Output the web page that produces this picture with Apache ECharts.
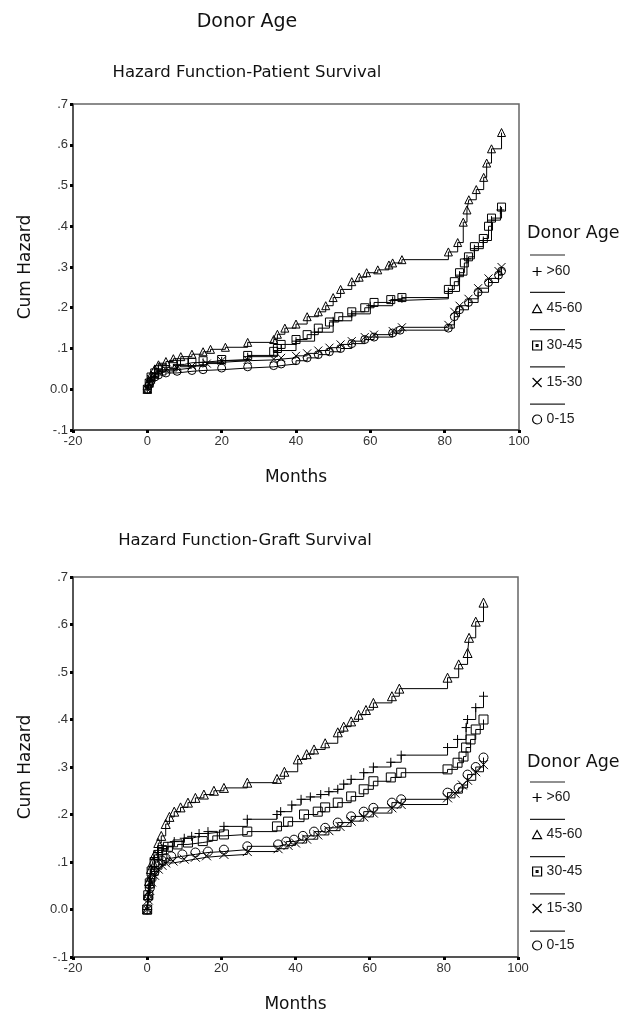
<!DOCTYPE html>
<html>
<head>
<meta charset="utf-8">
<script src="https://cdn.jsdelivr.net/npm/echarts@6/dist/echarts.min.js"></script>
<style>
html, body { margin: 0; background: #fff; }
#main { width: 622px; height: 1021px; }
</style>
</head>
<body>
<div id="main"></div>
<script>
// groups and tick labels
var groups = ['>60', '45-60', '30-45', '15-30', '0-15'];
var xTickLabels = ['-20', '0', '20', '40', '60', '80', '100'];
var yTickLabels = ['-.1', '0.0', '.1', '.2', '.3', '.4', '.5', '.6', '.7'];

// patient survival: [months, cum hazard]
var patientGt60 = [[0,0],[1,0.03],[3,0.045],[8,0.058],[15,0.066],[20,0.07],[27,0.08],[35,0.095],[40,0.118],[45,0.14],[50,0.168],[55,0.185],[60,0.205],[66,0.218],[68.5,0.222],[81,0.24],[84,0.28],[86,0.32],[88,0.345],[90.4,0.365],[92.6,0.415],[95,0.44]];
var patient45to60 = [[0,0],[0.5,0.02],[1,0.035],[2,0.05],[3,0.06],[5,0.068],[7,0.075],[9,0.08],[12,0.086],[15,0.092],[17,0.098],[21,0.103],[27,0.115],[34,0.122],[35,0.135],[37,0.15],[40,0.16],[43,0.178],[46,0.19],[48,0.205],[50,0.225],[52,0.245],[55,0.264],[57,0.275],[59,0.286],[62,0.293],[65,0.305],[66,0.31],[68.5,0.318],[81,0.337],[83.5,0.36],[85,0.41],[86,0.44],[86.5,0.465],[88.5,0.49],[90.5,0.52],[91.3,0.555],[92.6,0.59],[95.3,0.63]];
var patient30to45 = [[0,0],[0.5,0.015],[1,0.03],[2,0.04],[3,0.048],[4,0.054],[7,0.061],[10,0.065],[12,0.066],[15,0.07],[20,0.073],[27,0.083],[34,0.093],[35,0.1],[36,0.11],[40,0.122],[43,0.134],[46,0.15],[49,0.165],[51.5,0.178],[55,0.19],[58.5,0.2],[61,0.213],[65.5,0.22],[68.5,0.225],[81,0.245],[82.6,0.264],[84,0.286],[85.3,0.31],[86.4,0.325],[88,0.35],[90.4,0.37],[91.8,0.4],[92.6,0.42],[95.3,0.447]];
var patient15to30 = [[0,0],[0.5,0.015],[1,0.025],[2,0.035],[3,0.042],[5,0.048],[8,0.052],[12,0.057],[16,0.063],[20,0.07],[27,0.072],[34,0.074],[36,0.077],[40,0.082],[43,0.088],[46,0.095],[49,0.102],[52,0.11],[55,0.118],[58.5,0.128],[61,0.134],[66,0.143],[68.5,0.152],[81,0.158],[82.6,0.19],[84,0.205],[86.4,0.222],[89,0.248],[91.8,0.272],[94.5,0.29],[95.3,0.3]];
var patient0to15 = [[0,0],[0.5,0.012],[1,0.02],[2,0.03],[3,0.035],[5,0.04],[8,0.044],[12,0.046],[15,0.048],[20,0.052],[27,0.055],[34,0.058],[36,0.062],[40,0.07],[43,0.077],[46,0.085],[49,0.092],[52,0.1],[55,0.112],[58.5,0.122],[61,0.128],[66,0.138],[68,0.145],[81,0.15],[82.6,0.178],[84,0.195],[86.4,0.213],[89,0.238],[91.8,0.262],[94.5,0.28],[95.3,0.29]];

// graft survival: [months, cum hazard]
var graftGt60 = [[0,0],[0.3,0.03],[0.7,0.06],[1.2,0.085],[2,0.105],[3,0.12],[4,0.128],[5.6,0.133],[7.3,0.143],[10,0.15],[12,0.154],[14,0.16],[16.4,0.164],[20.7,0.175],[27,0.19],[35,0.2],[36,0.206],[39,0.22],[41.5,0.232],[44,0.237],[46.8,0.242],[49,0.248],[51.4,0.253],[53,0.264],[55,0.274],[58.4,0.288],[61,0.3],[65.7,0.31],[68.5,0.325],[81,0.341],[83.7,0.358],[86,0.383],[86.4,0.4],[88.6,0.425],[90.7,0.449]];
var graft45to60 = [[0,0],[0.2,0.03],[0.5,0.06],[1,0.085],[1.5,0.1],[2,0.115],[3,0.14],[3.8,0.155],[5,0.18],[6,0.195],[7.3,0.206],[9,0.215],[11,0.225],[13,0.235],[15.3,0.242],[18,0.25],[20.7,0.256],[27,0.267],[35,0.275],[37,0.29],[40.6,0.316],[43,0.327],[45,0.337],[48,0.35],[51.4,0.373],[53,0.385],[55,0.396],[57,0.41],[59,0.42],[61,0.435],[66,0.449],[68,0.465],[81,0.488],[84,0.516],[86.4,0.54],[86.8,0.572],[88.6,0.606],[90.7,0.646]];
var graft30to45 = [[0,0],[0.3,0.03],[0.7,0.055],[1.2,0.08],[2,0.1],[3,0.115],[4,0.125],[5.6,0.132],[8.2,0.137],[11,0.141],[15,0.144],[17.7,0.155],[20.7,0.158],[27,0.164],[35,0.175],[38,0.185],[42.3,0.2],[46,0.206],[48,0.215],[51.4,0.225],[55,0.238],[58.4,0.253],[61,0.27],[65.7,0.278],[68.5,0.288],[81,0.295],[83.7,0.309],[85.3,0.322],[86,0.341],[87.2,0.358],[88.6,0.379],[90.7,0.4]];
var graft15to30 = [[0,0],[0.3,0.02],[0.7,0.04],[1.2,0.058],[2,0.072],[3,0.085],[4,0.093],[5,0.098],[7,0.102],[10,0.106],[13,0.11],[16,0.113],[20.7,0.116],[27,0.122],[35.3,0.128],[38,0.135],[40,0.14],[43,0.148],[46,0.157],[49,0.166],[52,0.175],[55,0.186],[58.4,0.195],[61,0.203],[66,0.214],[68.5,0.221],[81,0.235],[83,0.245],[85,0.262],[86.4,0.272],[88.6,0.29],[90.7,0.305]];
var graft0to15 = [[0,0],[0.3,0.025],[0.7,0.045],[1.2,0.065],[2,0.08],[3,0.095],[4,0.103],[5,0.108],[6.5,0.112],[9.5,0.116],[13,0.12],[16.4,0.122],[20.7,0.126],[27,0.133],[35.3,0.137],[37.5,0.143],[39.6,0.147],[42,0.155],[45,0.164],[48,0.172],[51.4,0.183],[55,0.196],[58.4,0.206],[61,0.214],[66,0.225],[68.5,0.232],[81,0.246],[84,0.256],[86.4,0.284],[88.6,0.3],[90.7,0.32]];

var patientData = [patientGt60, patient45to60, patient30to45, patient15to30, patient0to15];
var graftData = [graftGt60, graft45to60, graft30to45, graft15to30, graft0to15];

var symbols = [
  'path://M5,0L5,10M0,5L10,5',
  'path://M5,0L10,9L0,9Z',
  'path://M0,0L10,0L10,10L0,10Z',
  'path://M0,0L10,10M10,0L0,10',
  'path://M10,5A5,5,0,1,1,0,5A5,5,0,1,1,10,5Z'
];
var legendIcons = symbols.slice();
legendIcons[2] = 'path://M0,0L10,0L10,10L0,10ZM4,4L6,4L6,6L4,6Z';

var titleFont = 'DejaVu Sans';
var tickFont = 'Liberation Sans';

var chart = echarts.init(document.getElementById('main'));

function makeX(idx) {
  return {
    type: 'value', gridIndex: idx, min: -20, max: 100, interval: 20,
    name: 'Months', nameLocation: 'middle', nameGap: 39,
    nameTextStyle: { fontFamily: titleFont, fontSize: 17, color: '#111' },
    axisLine: { onZero: false, lineStyle: { color: '#444', width: 1.5 } },
    axisTick: { length: 3, lineStyle: { color: '#000', width: 3 } },
    axisLabel: { fontFamily: tickFont, fontSize: 13, color: '#333', margin: 5,
      formatter: function (v) { return xTickLabels[Math.round((v + 20) / 20)]; } },
    splitLine: { show: false }
  };
}
function makeY(idx) {
  return {
    type: 'value', gridIndex: idx, min: -0.1, max: 0.7, interval: 0.1,
    name: 'Cum Hazard', nameLocation: 'middle', nameGap: 39,
    nameTextStyle: { fontFamily: titleFont, fontSize: 17, color: '#111' },
    axisLine: { onZero: false, lineStyle: { color: '#444', width: 1.5 } },
    axisTick: { length: 3, lineStyle: { color: '#000', width: 3 } },
    axisLabel: { fontFamily: tickFont, fontSize: 13, color: '#333', margin: 5,
      formatter: function (v) { return yTickLabels[Math.round((v + 0.1) / 0.1)]; } },
    splitLine: { show: false }
  };
}

var series = [];
function addSeries(dataList, idx, size) {
  dataList.forEach(function (d, i) {
    series.push({
      name: groups[i], type: 'line', step: 'end',
      xAxisIndex: idx, yAxisIndex: idx,
      data: d, symbol: symbols[i], symbolSize: size, showAllSymbol: true,
      color: '#000',
      lineStyle: { color: '#000', width: 1 },
      itemStyle: { color: 'rgba(255,255,255,0)', borderColor: '#000', borderWidth: 1 },
      animation: false, z: 5 - i
    });
  });
}
addSeries(patientData, 0, 8);
addSeries(graftData, 1, 9);

function makeLegend(top) {
  return {
    orient: 'vertical', left: 532, top: top, padding: 0,
    itemWidth: 9, itemHeight: 9, itemGap: 22, itemStyle: { color: 'rgba(255,255,255,0)', borderColor: '#000', borderWidth: 1.2 },
    data: groups.map(function (g, i) { return { name: g, icon: legendIcons[i] }; }),
    lineStyle: { width: 0 },
    textStyle: { fontFamily: tickFont, fontSize: 14, color: '#222', lineHeight: 15 },
    selectedMode: false
  };
}

var graphics = [];
function addText(x, y, text, size, align) {
  graphics.push({ type: 'text', x: x, y: y,
    style: { text: text, fontFamily: titleFont, fontSize: size, fill: '#111',
      textAlign: align, textVerticalAlign: 'middle' } });
}
addText(247, 22, 'Donor Age', 19, 'center');
addText(247, 73, 'Hazard Function-Patient Survival', 16.5, 'center');
addText(245, 541, 'Hazard Function-Graft Survival', 16.5, 'center');
addText(527, 233, 'Donor Age', 17.5, 'left');
addText(527, 762, 'Donor Age', 17.5, 'left');
function addSeparators(y0) {
  for (var k = 0; k < 5; k++) {
    var y = y0 + k * 37.3;
    graphics.push({ type: 'line', shape: { x1: 530, y1: y, x2: 565, y2: y },
      style: { stroke: '#222', lineWidth: 1.2 } });
  }
}
addSeparators(255);
addSeparators(782);

chart.setOption({
  backgroundColor: '#fff',
  grid: [
    { left: 73, top: 104, width: 446, height: 326, show: true, borderColor: '#666', borderWidth: 1.5 },
    { left: 73, top: 577, width: 445, height: 380, show: true, borderColor: '#666', borderWidth: 1.5 }
  ],
  xAxis: [makeX(0), makeX(1)],
  yAxis: [makeY(0), makeY(1)],
  legend: [makeLegend(264), makeLegend(790)],
  graphic: graphics,
  series: series
});
</script>
</body>
</html>
